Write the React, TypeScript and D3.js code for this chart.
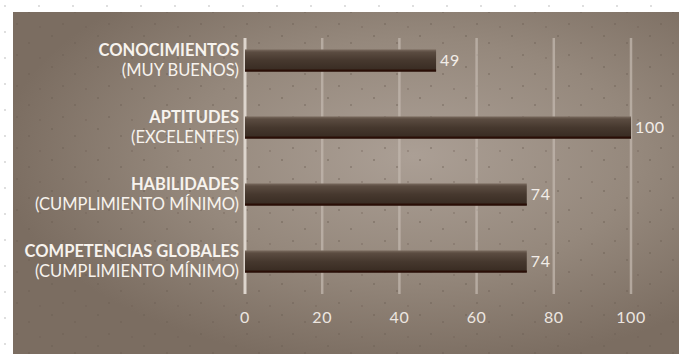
import React from "react";
import * as d3 from "d3";

const categories = ["CONOCIMIENTOS", "APTITUDES", "HABILIDADES", "COMPETENCIAS GLOBALES"];
const subtitles = ["(MUY BUENOS)", "(EXCELENTES)", "(CUMPLIMIENTO MÍNIMO)", "(CUMPLIMIENTO MÍNIMO)"];
const values = [49.5, 100, 73, 73];
const valueLabels = ["49", "100", "74", "74"];
const ticks = [0, 20, 40, 60, 80, 100];

const W = 682;
const H = 354;

export default function App() {
  const x = d3.scaleLinear().domain([0, 100]).range([245, 631]);
  const y = d3
    .scaleBand<string>()
    .domain(categories)
    .range([27, 295])
    .paddingInner(0.67)
    .paddingOuter(0.335);
  const bw = y.bandwidth();
  const font = "Lato, 'Open Sans', sans-serif";

  return (
    <svg
      width={W}
      height={H}
      style={{ position: "fixed", left: 0, top: 0, display: "block" }}
    >
      <defs>
        <pattern id="outerDots" width="34" height="26" patternUnits="userSpaceOnUse">
          <circle cx="5" cy="6" r="0.9" fill="#cfcfcf" />
          <circle cx="22" cy="17" r="0.9" fill="#d6d6d6" />
          <circle cx="14" cy="22" r="0.7" fill="#dcdcdc" />
        </pattern>
        <pattern id="innerDots" width="46" height="31" patternUnits="userSpaceOnUse">
          <circle cx="6" cy="5" r="1" fill="#6a5c52" fillOpacity="0.55" />
          <circle cx="29" cy="12" r="1" fill="#6a5c52" fillOpacity="0.5" />
          <circle cx="17" cy="24" r="1" fill="#6a5c52" fillOpacity="0.5" />
          <circle cx="40" cy="27" r="0.9" fill="#6a5c52" fillOpacity="0.45" />
        </pattern>
        <radialGradient id="panelGrad" cx="0.6" cy="0.42" r="0.62" gradientUnits="objectBoundingBox">
          <stop offset="0" stopColor="#ab9f95" />
          <stop offset="0.55" stopColor="#95887c" />
          <stop offset="1" stopColor="#7b6d61" />
        </radialGradient>
        <linearGradient id="barGrad" x1="0" y1="0" x2="0" y2="1">
          <stop offset="0" stopColor="#7a6b5f" />
          <stop offset="0.12" stopColor="#5b4c41" />
          <stop offset="0.5" stopColor="#46382e" />
          <stop offset="1" stopColor="#372a21" />
        </linearGradient>
      </defs>

      <rect x={0} y={0} width={W} height={H} fill="#ffffff" />
      <rect x={0} y={0} width={W} height={H} fill="url(#outerDots)" />
      <rect x={13} y={12} width={666} height={H - 12} fill="url(#panelGrad)" />
      <rect x={13} y={12} width={666} height={H - 12} fill="url(#innerDots)" />

      {ticks.map((t) => (
        <line
          key={"g" + t}
          x1={x(t)}
          x2={x(t)}
          y1={38}
          y2={294}
          stroke={t === 0 ? "#ddd5cd" : "#c2b7ad"}
          strokeOpacity={t === 0 ? 1 : 0.75}
          strokeWidth={t === 0 ? 3 : 2.5}
        />
      ))}

      {categories.map((c, i) => {
        const y0 = y(c) as number;
        const cy = y0 + bw / 2;
        return (
          <g key={c}>
            <rect x={x(0)} y={y0} width={x(values[i]) - x(0)} height={bw} fill="url(#barGrad)" />
            <rect x={x(0)} y={y0 + bw - 2} width={x(values[i]) - x(0)} height={2} fill="#2a0e06" />
            <text
              x={x(values[i]) + 4}
              y={cy + 5.5}
              fill="#f2ede8"
              fontFamily={font}
              fontSize={16}
              letterSpacing={0.6}
            >
              {valueLabels[i]}
            </text>
            <text
              x={239}
              y={cy - 4.5}
              textAnchor="end"
              fill="#f7f3ee"
              fontFamily={font}
              fontWeight="bold"
              fontSize={16.5}
            >
              {c}
            </text>
            <text
              x={239}
              y={cy + 15.5}
              textAnchor="end"
              fill="#f7f3ee"
              fontFamily={font}
              fontSize={16.5}
            >
              {subtitles[i]}
            </text>
          </g>
        );
      })}

      {ticks.map((t) => (
        <text
          key={"t" + t}
          x={x(t)}
          y={323}
          textAnchor="middle"
          fill="#ece6e0"
          fontFamily={font}
          fontSize={16}
          letterSpacing={0.6}
        >
          {t}
        </text>
      ))}
    </svg>
  );
}
